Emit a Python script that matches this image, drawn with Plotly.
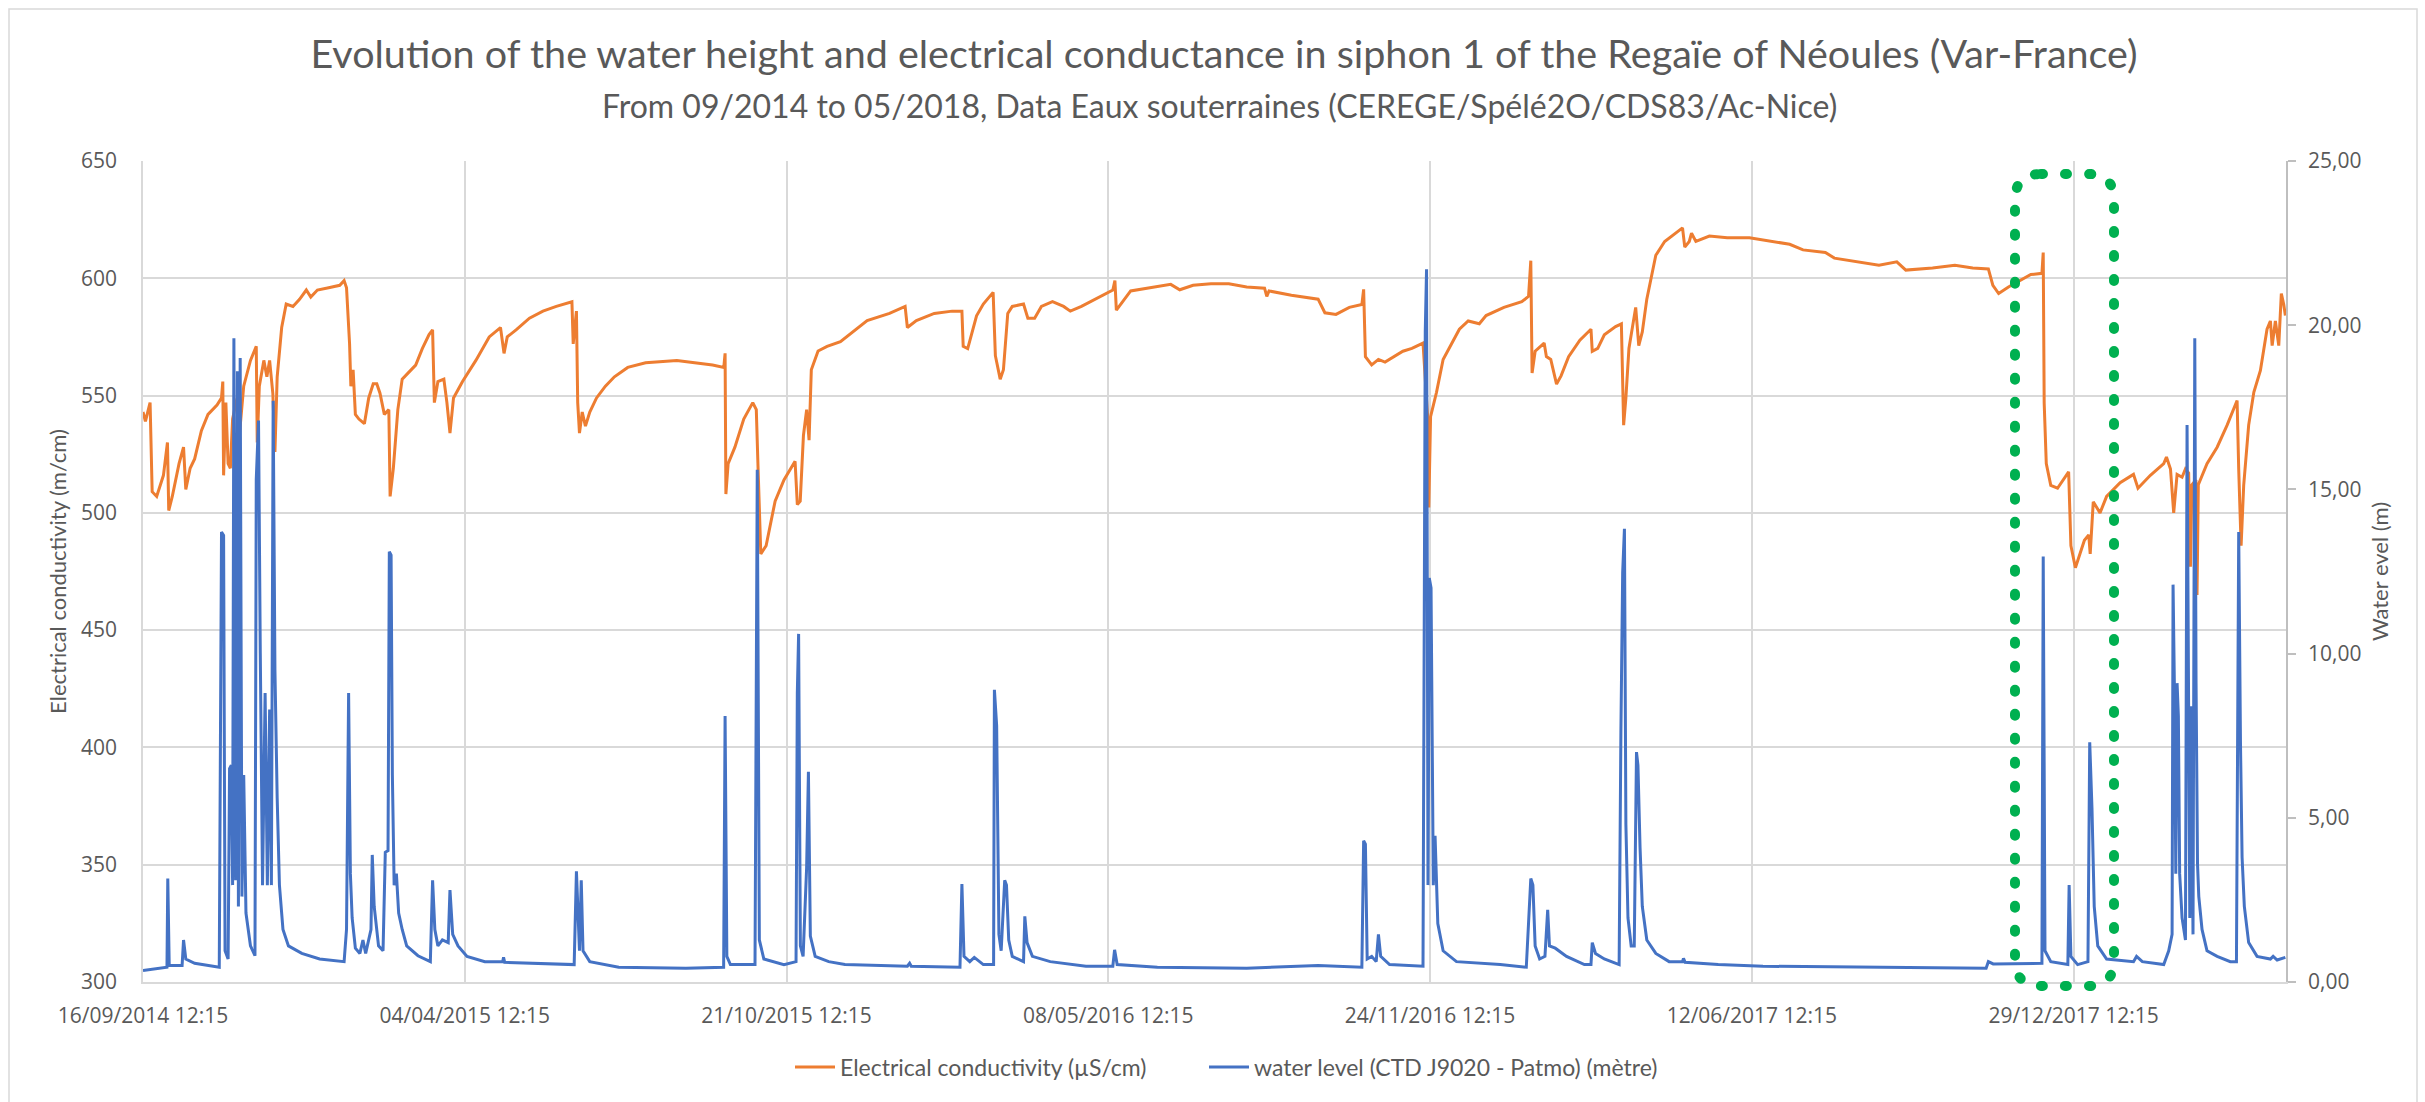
import pandas as pd
import plotly.graph_objects as go
from plotly.subplots import make_subplots

START = "2014-09-16 12:15"

# Electrical conductivity (left axis) : day offset from START, value
cond_days = [0, 1.5, 4.4, 5.7, 8.5, 12.7, 15.2, 16, 18.2, 22.4, 25.2, 26.6, 29.3, 32.1, 36.3, 40.4, 46, 48.8,
             49.6, 50.1, 51.5, 52.9, 54.3, 55.7, 58.5, 59.9, 62.6, 66.8, 70.4, 71, 72.3, 75.1, 77, 78.7, 80.7,
             82, 83.4, 86.2, 89, 93.2, 97.3, 101.5, 104.3, 108.4, 115.4, 122.3, 125, 126.5, 128.4, 129.2,
             130.6, 132, 134.2, 137.6, 140.3, 143.1, 145.3, 147.3, 150, 152.8, 153.6, 155.6, 158.4, 161.1,
             165.3, 169.5, 173.6, 177.8, 180, 181.1, 183.3, 187, 188.9, 190.8, 193, 198.6, 206.9, 215.2,
             222.2, 224.4, 226.4, 231.9, 240.2, 248.6, 256.9, 266.6, 267.4, 269.4, 270.2, 271.3, 273, 275,
             277.7, 281.9, 287.4, 293, 301.3, 312.4, 331.8, 342.9, 354, 361, 361.8, 362.3, 363.7, 367.9,
             373.4, 379, 381.2, 382.3, 384, 387.3, 392.9, 398.4, 405.3, 406.7, 408.5, 410.5, 412.5, 414,
             415.4, 419.6, 425.2, 433.5, 439, 450.1, 464, 473.7, 475.1, 480.7, 491.8, 502.9, 509, 509.8,
             512.6, 518.1, 522.3, 528.4, 529.8, 532.8, 534.8, 537.5, 540.3, 547.3, 550, 554.2, 558.4, 565.3,
             572.2, 576.4, 583.3, 591.7, 602.8, 604.1, 605, 613.9, 630.5, 638.8, 644.4, 652.7, 663.8, 674.9,
             686, 697.1, 698.5, 699.9, 713.8, 730.4, 734.6, 741.5, 749.8, 757.6, 758.7, 759.8, 763.7, 767.9,
             772, 777.6, 783.1, 788.7, 795.6, 798.4, 799.2, 800.3, 804, 808.1, 813.7, 818.2, 823.7, 830.6,
             834.8, 845.9, 857, 861.2, 862.6, 863.4, 865.3, 869.5, 870.9, 872.3, 875, 878.6, 881.4, 886.1,
             893.1, 900, 900.8, 904.2, 908.3, 915.3, 918.9, 920.3, 921.7, 923.6, 926.4, 927.8, 929.7, 931.9,
             934.7, 940.3, 945.8, 952.7, 956.9, 958.3, 961.1, 962.5, 965.2, 973.6, 984.7, 998.5, 1012.4,
             1023.5, 1031.8, 1045.7, 1051.3, 1065.1, 1079, 1090.1, 1095.7, 1112.3, 1126.2, 1137.3, 1147,
             1149.8, 1153.4, 1159.5, 1167.8, 1173.4, 1180.3, 1181.1, 1181.7, 1183, 1185.8, 1190, 1196.9,
             1198.3, 1201.1, 1206.7, 1209.4, 1210.3, 1212.2, 1216.4, 1220.5, 1228.9, 1237.2, 1240, 1247.7,
             1256, 1257.7, 1260.2, 1262.2, 1264.3, 1267.4, 1269.5, 1271.5, 1272.6, 1273.5, 1276, 1276.7,
             1277.5, 1282.9, 1289.2, 1295.4, 1301.6, 1302.6, 1304.1, 1305.7, 1308.8, 1312, 1316.1, 1320.2,
             1322.3, 1323.4, 1325.4, 1327.5, 1329.1, 1330.6, 1331.6]
cond_values = [543, 539, 547, 509, 507, 516, 530, 501, 507, 521, 528, 510, 519, 523, 535, 542, 546, 549,
               556, 516, 547, 521, 519, 540, 549, 533, 554, 565, 571, 530, 554, 565, 558, 565, 551,
               526, 558, 579, 589, 588, 591, 595, 592, 595, 596, 597, 599, 596, 572, 554,
               561, 542, 540, 538, 549, 555, 555, 551, 542, 544, 507, 519, 544, 557,
               560, 563, 570, 576, 578, 547, 556, 557, 547, 534, 549, 556, 565, 575,
               579, 568, 575, 578, 583, 586, 588, 590, 572, 586, 547, 534, 543, 537,
               543, 549, 554, 558, 562, 564, 565, 564, 563, 562, 568, 508, 521, 528,
               540, 547, 544, 519, 482.5, 486, 505, 514, 522, 503.5, 505, 533, 544, 531,
               561, 569, 571, 573, 576, 582, 585, 588, 579, 582, 585, 586, 586, 571,
               570, 584, 589, 594, 567, 557, 561, 585, 588, 589, 583, 583, 588, 590,
               588, 586, 588, 591, 595, 599, 586.4, 594.6, 596.3, 597.4, 595.1, 597, 597.7, 597.7,
               596.3, 595.8, 592.3, 594.6, 592.8, 591.1, 585.3, 584.6, 587.6, 588.8, 595.3, 566.6, 563.1, 565.4,
               564.3, 566.6, 568.9, 570.1, 572.4, 542, 502.3, 541, 551.4, 565.4, 572.4, 578.3, 581.8, 580.6,
               584.1, 587.6, 590, 592.3, 607.5, 559.6, 568.9, 571.3, 572.4, 566.6, 565.4, 554.9, 558.4, 566.6,
               573.6, 578.3, 568.9, 570.1, 575.9, 579.4, 580.6, 537.4, 549, 570.1, 581.8, 587.6, 571.3, 577.1,
               591.1, 609.8, 615.7, 619.2, 621.5, 613.3, 615.7, 619.2, 615.7, 618, 617.3, 617.3, 615.7,
               614.5, 612.1, 611, 608.6, 607, 605.6, 607, 603.5, 604.4, 605.6, 604.4, 604,
               597, 593.5, 596.3, 599.3, 601.6, 602.1, 611, 546.7, 521, 511.7, 510.5, 517.5,
               486, 476.6, 488.3, 490.6, 482.5, 504.7, 500, 507, 512.9, 516.4, 510.5, 516,
               521, 523.8, 518.7, 500, 516.4, 515.2, 518.7, 517, 477, 512, 514, 465,
               512, 521, 528, 537.4, 547.9, 518.7, 486, 511.7, 537.4, 551.4, 560.7, 578.3,
               581.8, 571.3, 581.8, 571.3, 593.5, 588.8, 584.1]

# Water level (right axis) : day offset from START, metres
level_days = [0, 14.9, 15.4, 16.3, 24.3, 25.2, 26.6, 32.1, 47.4, 48.8, 50.1, 51, 52.9, 53.8, 54.9, 55.7,
              56.5, 57.6, 58.7, 59.3, 60.4, 61.5, 62.6, 64, 66.8, 69.6, 70.4, 71.8, 72.9, 74.3, 75.9, 77.3,
              78.7, 79.8, 80.9, 82, 83.4, 84.8, 87, 90.4, 98.7, 109.8, 125, 126.5, 127.8, 128.9, 130, 132,
              134.8, 136.7, 138.4, 141.7, 142.5, 143.7, 146.4, 149.2, 150.6, 152.3, 153.1, 154.2, 155, 156.1,
              157.5, 158.9, 161.1, 163.9, 170.9, 178.6, 180, 181.4, 183.3, 186.1, 189.7, 190.8, 192.5, 195.8,
              201.4, 212.5, 223.6, 224.1, 224.8, 240.2, 268, 269.4, 271.3, 272.4, 273.5, 277.7, 295.7, 337.4,
              360.9, 361.8, 362.9, 365.1, 380.4, 381.8, 383.1, 385.9, 398.4, 405.9, 406.7, 407.5, 408.6,
              410.3, 412.5, 413.6, 414.8, 417.8, 426.2, 436.3, 475.1, 476.5, 477.5, 507.8, 509, 510.3, 513.9,
              516.7, 522.3, 528.7, 529.2, 530.6, 532, 533.4, 535.6, 536.7, 538.1, 540.3, 547.3, 548.1, 549.5,
              552.8, 563.9, 586.1, 602.8, 603.9, 605.5, 630.5, 686, 730.4, 757.6, 758.7, 759.8, 760.9, 763.7,
              766.5, 767.9, 769.3, 774.8, 795.6, 797, 797.8, 798.7, 799.5, 800.6, 802, 803.1, 804.8, 808.1,
              816.4, 843.6, 859.8, 862.6, 863.9, 865.3, 868.1, 871.4, 873.1, 874.2, 877.8, 884.8, 895.9, 900,
              900.8, 902.8, 908.3, 917.5, 918.6, 919.7, 920.8, 921.7, 923, 925, 926.9, 928.3, 929.2, 930.5,
              931.9, 934.7, 940.3, 948.6, 956.9, 957.5, 958.5, 979.1, 1006.9, 1062.4, 1117.9, 1145.6, 1147,
              1150, 1180.3, 1181.1, 1182.2, 1185.8, 1196.4, 1197.2, 1198.3, 1202.5, 1208.9, 1210, 1211.4,
              1212.8, 1215, 1220.5, 1237.2, 1239.1, 1242.7, 1256, 1259.1, 1261.2, 1261.8, 1262.6, 1263.5,
              1264.3, 1265.1, 1265.9, 1267.4, 1269.5, 1270.5, 1271.3, 1272.2, 1273, 1274.2, 1275.3, 1276.1,
              1277, 1277.8, 1279.8, 1282.9, 1289.2, 1297.4, 1301.2, 1301.6, 1302.6, 1303.7, 1304.7, 1306.1,
              1308.8, 1314, 1322.3, 1324, 1326.5, 1331.6]
level_values = [0.35, 0.45, 3.15, 0.5, 0.5, 1.28, 0.7, 0.57, 0.45, 13.7, 13.6, 0.95, 0.7, 6.5, 6.6, 2.95,
                19.6, 3.1, 18.6, 2.3, 19.0, 2.6, 6.3, 2.1, 1.1, 0.8, 15.3, 17.1, 10.0, 2.95, 8.8, 2.95,
                8.3, 2.95, 17.7, 9.5, 5.6, 2.95, 1.6, 1.1, 0.87, 0.7, 0.62, 1.6, 8.8, 3.3, 1.95, 1.03,
                0.87, 1.28, 0.87, 1.6, 3.87, 2.3, 1.1, 0.95, 3.95, 4.0, 13.1, 13.0, 6.3, 2.95,
                3.3, 2.1, 1.6, 1.1, 0.8, 0.62, 3.1, 1.6, 1.1, 1.28, 1.2, 2.8, 1.45, 1.1,
                0.78, 0.62, 0.62, 0.75, 0.6, 0.57, 0.53, 3.37, 0.95, 3.1, 0.95, 0.62, 0.45, 0.42,
                0.45, 8.1, 0.78, 0.53, 0.53, 15.6, 1.28, 0.7, 0.53, 0.62, 8.8, 10.6, 1.1,
                0.78, 3.5, 6.4, 1.4, 0.78, 0.62, 0.53, 0.48, 0.57, 0.48, 0.45, 2.98, 0.78, 0.62,
                0.75, 0.53, 0.53, 8.9, 7.8, 1.45, 0.95, 3.1, 2.95, 1.28, 0.78, 0.62, 2.0, 1.2,
                0.78, 0.62, 0.48, 0.48, 0.98, 0.53, 0.45, 0.42, 0.5, 0.45, 4.3, 4.2, 0.7, 0.78,
                0.62, 1.45, 0.78, 0.53, 0.48, 19.8, 21.7, 2.95, 12.3, 12.0, 2.95, 4.45, 1.78, 0.95,
                0.62, 0.53, 0.45, 3.15, 2.95, 1.1, 0.7, 0.78, 2.2, 1.1, 1.03, 0.78, 0.53, 0.53,
                1.2, 0.87, 0.7, 0.53, 7.6, 12.46, 13.8, 4.8, 1.95, 1.1, 1.1, 7.0, 6.6, 4.1,
                2.3, 1.28, 0.87, 0.62, 0.62, 0.72, 0.6, 0.53, 0.48, 0.45, 0.42, 0.42, 0.62,
                0.55, 0.57, 12.96, 0.95, 0.62, 0.53, 2.95, 0.78, 0.53, 0.62, 7.3, 5.3,
                2.3, 1.1, 0.7, 0.62, 0.78, 0.62, 0.53, 0.95, 1.45, 12.1, 9.1, 3.3,
                9.1, 8.1, 3.3, 1.95, 1.28, 16.96, 8.45, 1.95, 8.4, 1.45, 19.6, 9.1,
                3.6, 2.6, 1.6, 0.95, 0.78, 0.62, 0.62, 4.95, 13.7, 7.3, 3.8, 2.3,
                1.2, 0.78, 0.7, 0.78, 0.67, 0.75]

x_tick_step_days = 200
x_span_days = 1332

start = pd.Timestamp(START)
cond_x = start + pd.to_timedelta(cond_days, unit="D")
level_x = start + pd.to_timedelta(level_days, unit="D")

ORANGE = "#ED7D31"
BLUE = "#4472C4"
GREEN = "#00B050"
GRID = "#d9d9d9"
TEXT = "#595959"
TITLE_FONT = "Lato"
TICK_FONT = "Open Sans"

W, H = 2425, 1102
ML, MR, MT, MB = 143, 139, 161, 120

fig = make_subplots(specs=[[{"secondary_y": True}]])
fig.add_trace(go.Scatter(x=cond_x, y=cond_values, mode="lines", name="Electrical conductivity (µS/cm)",
                         line=dict(color=ORANGE, width=3), legend="legend"), secondary_y=False)
fig.add_trace(go.Scatter(x=level_x, y=level_values, mode="lines",
                         name="water level (CTD J9020 - Patmo) (mètre)",
                         line=dict(color=BLUE, width=3), legend="legend2"), secondary_y=True)

pw = W - ML - MR
ph = H - MT - MB


def pxx(px):
    return (px - ML) / pw


def pxy(py):
    return (H - MB - py) / ph


# dotted rounded highlight box (pixel geometry converted to paper coordinates)
bx0, bx1, by0, by1, r = 2015, 2114, 174, 986, 26
pts = [("M", bx0 + r, by0), ("L", bx1 - r, by0), ("Q", bx1, by0, bx1, by0 + r), ("L", bx1, by1 - r),
       ("Q", bx1, by1, bx1 - r, by1), ("L", bx0 + r, by1), ("Q", bx0, by1, bx0, by1 - r),
       ("L", bx0, by0 + r), ("Q", bx0, by0, bx0 + r, by0)]
path = ""
for p in pts:
    if p[0] == "Q":
        path += f"Q{pxx(p[1]):.5f},{pxy(p[2]):.5f} {pxx(p[3]):.5f},{pxy(p[4]):.5f} "
    else:
        path += f"{p[0]}{pxx(p[1]):.5f},{pxy(p[2]):.5f} "
path += "Z"

legend_style = dict(orientation="h", xanchor="left", y=pxy(1067), yanchor="middle",
                    font=dict(family=TITLE_FONT, size=23, color=TEXT), bgcolor="rgba(0,0,0,0)",
                    itemwidth=40, tracegroupgap=0)

fig.update_layout(
    width=W, height=H,
    margin=dict(l=ML, r=MR, t=MT, b=MB, autoexpand=False),
    paper_bgcolor="white", plot_bgcolor="white",
    separators=", ",
    showlegend=True,
    title=dict(text="Evolution of the water height and electrical conductance in siphon 1 of the Regaïe of Néoules (Var-France)",
               x=pxx(1224), xref="paper", xanchor="center", y=1 - 54 / H, yref="container", yanchor="middle",
               font=dict(family=TITLE_FONT, size=39.5, color=TEXT)),
    legend=dict(x=pxx(790), **legend_style),
    legend2=dict(x=pxx(1204), **legend_style),
    shapes=[
        dict(type="path", xref="paper", yref="paper", path=path,
             line=dict(color=GREEN, width=10, dash="2px,22px"), layer="above"),
        dict(type="rect", xref="paper", yref="paper", x0=pxx(9), x1=pxx(2417), y0=pxy(1120), y1=pxy(9),
             line=dict(color=GRID, width=1.5), layer="below"),
    ],
    annotations=[
        dict(text="From 09/2014 to 05/2018, Data Eaux souterraines (CEREGE/Spélé2O/CDS83/Ac-Nice)",
             xref="paper", yref="paper", x=pxx(1219), y=pxy(105), xanchor="center", yanchor="middle",
             showarrow=False, font=dict(family=TITLE_FONT, size=32, color=TEXT)),
    ],
)

fig.update_xaxes(
    type="date", automargin=False, domain=[0, 1],
    range=[start, start + pd.Timedelta(days=x_span_days)],
    tick0=start, dtick=x_tick_step_days * 86400000,
    tickformat="%d/%m/%Y %H:%M",
    showgrid=True, gridcolor=GRID, gridwidth=1.5,
    showline=True, linecolor=GRID, linewidth=1.5,
    ticks="", ticklabelstandoff=14,
    tickfont=dict(family=TICK_FONT, size=21, color=TEXT),
    zeroline=False,
)
fig.update_yaxes(
    automargin=False,
    range=[300, 650], dtick=50, tick0=300,
    showgrid=True, gridcolor=GRID, gridwidth=1.5,
    showline=True, linecolor=GRID, linewidth=1.5,
    ticks="", ticklabelstandoff=20,
    tickfont=dict(family=TICK_FONT, size=21, color=TEXT),
    title=dict(text="Electrical conductivity (m/cm)", font=dict(family=TITLE_FONT, size=22, color=TEXT), standoff=8),
    zeroline=False,
    secondary_y=False,
)
fig.update_yaxes(
    automargin=False,
    range=[0, 25], dtick=5, tick0=0, tickformat=".2f",
    showgrid=False,
    showline=True, linecolor="#bfbfbf", linewidth=1.5,
    ticks="outside", ticklen=8, tickcolor="#bfbfbf", tickwidth=1.5, ticklabelstandoff=8,
    tickfont=dict(family=TICK_FONT, size=21, color=TEXT),
    title=dict(text="Water evel (m)", font=dict(family=TITLE_FONT, size=22, color=TEXT), standoff=12),
    zeroline=False,
    secondary_y=True,
)

fig.write_html("out.html",
               post_script="document.querySelectorAll('.shapelayer path').forEach(function(p){p.style.strokeLinecap='round';});")
